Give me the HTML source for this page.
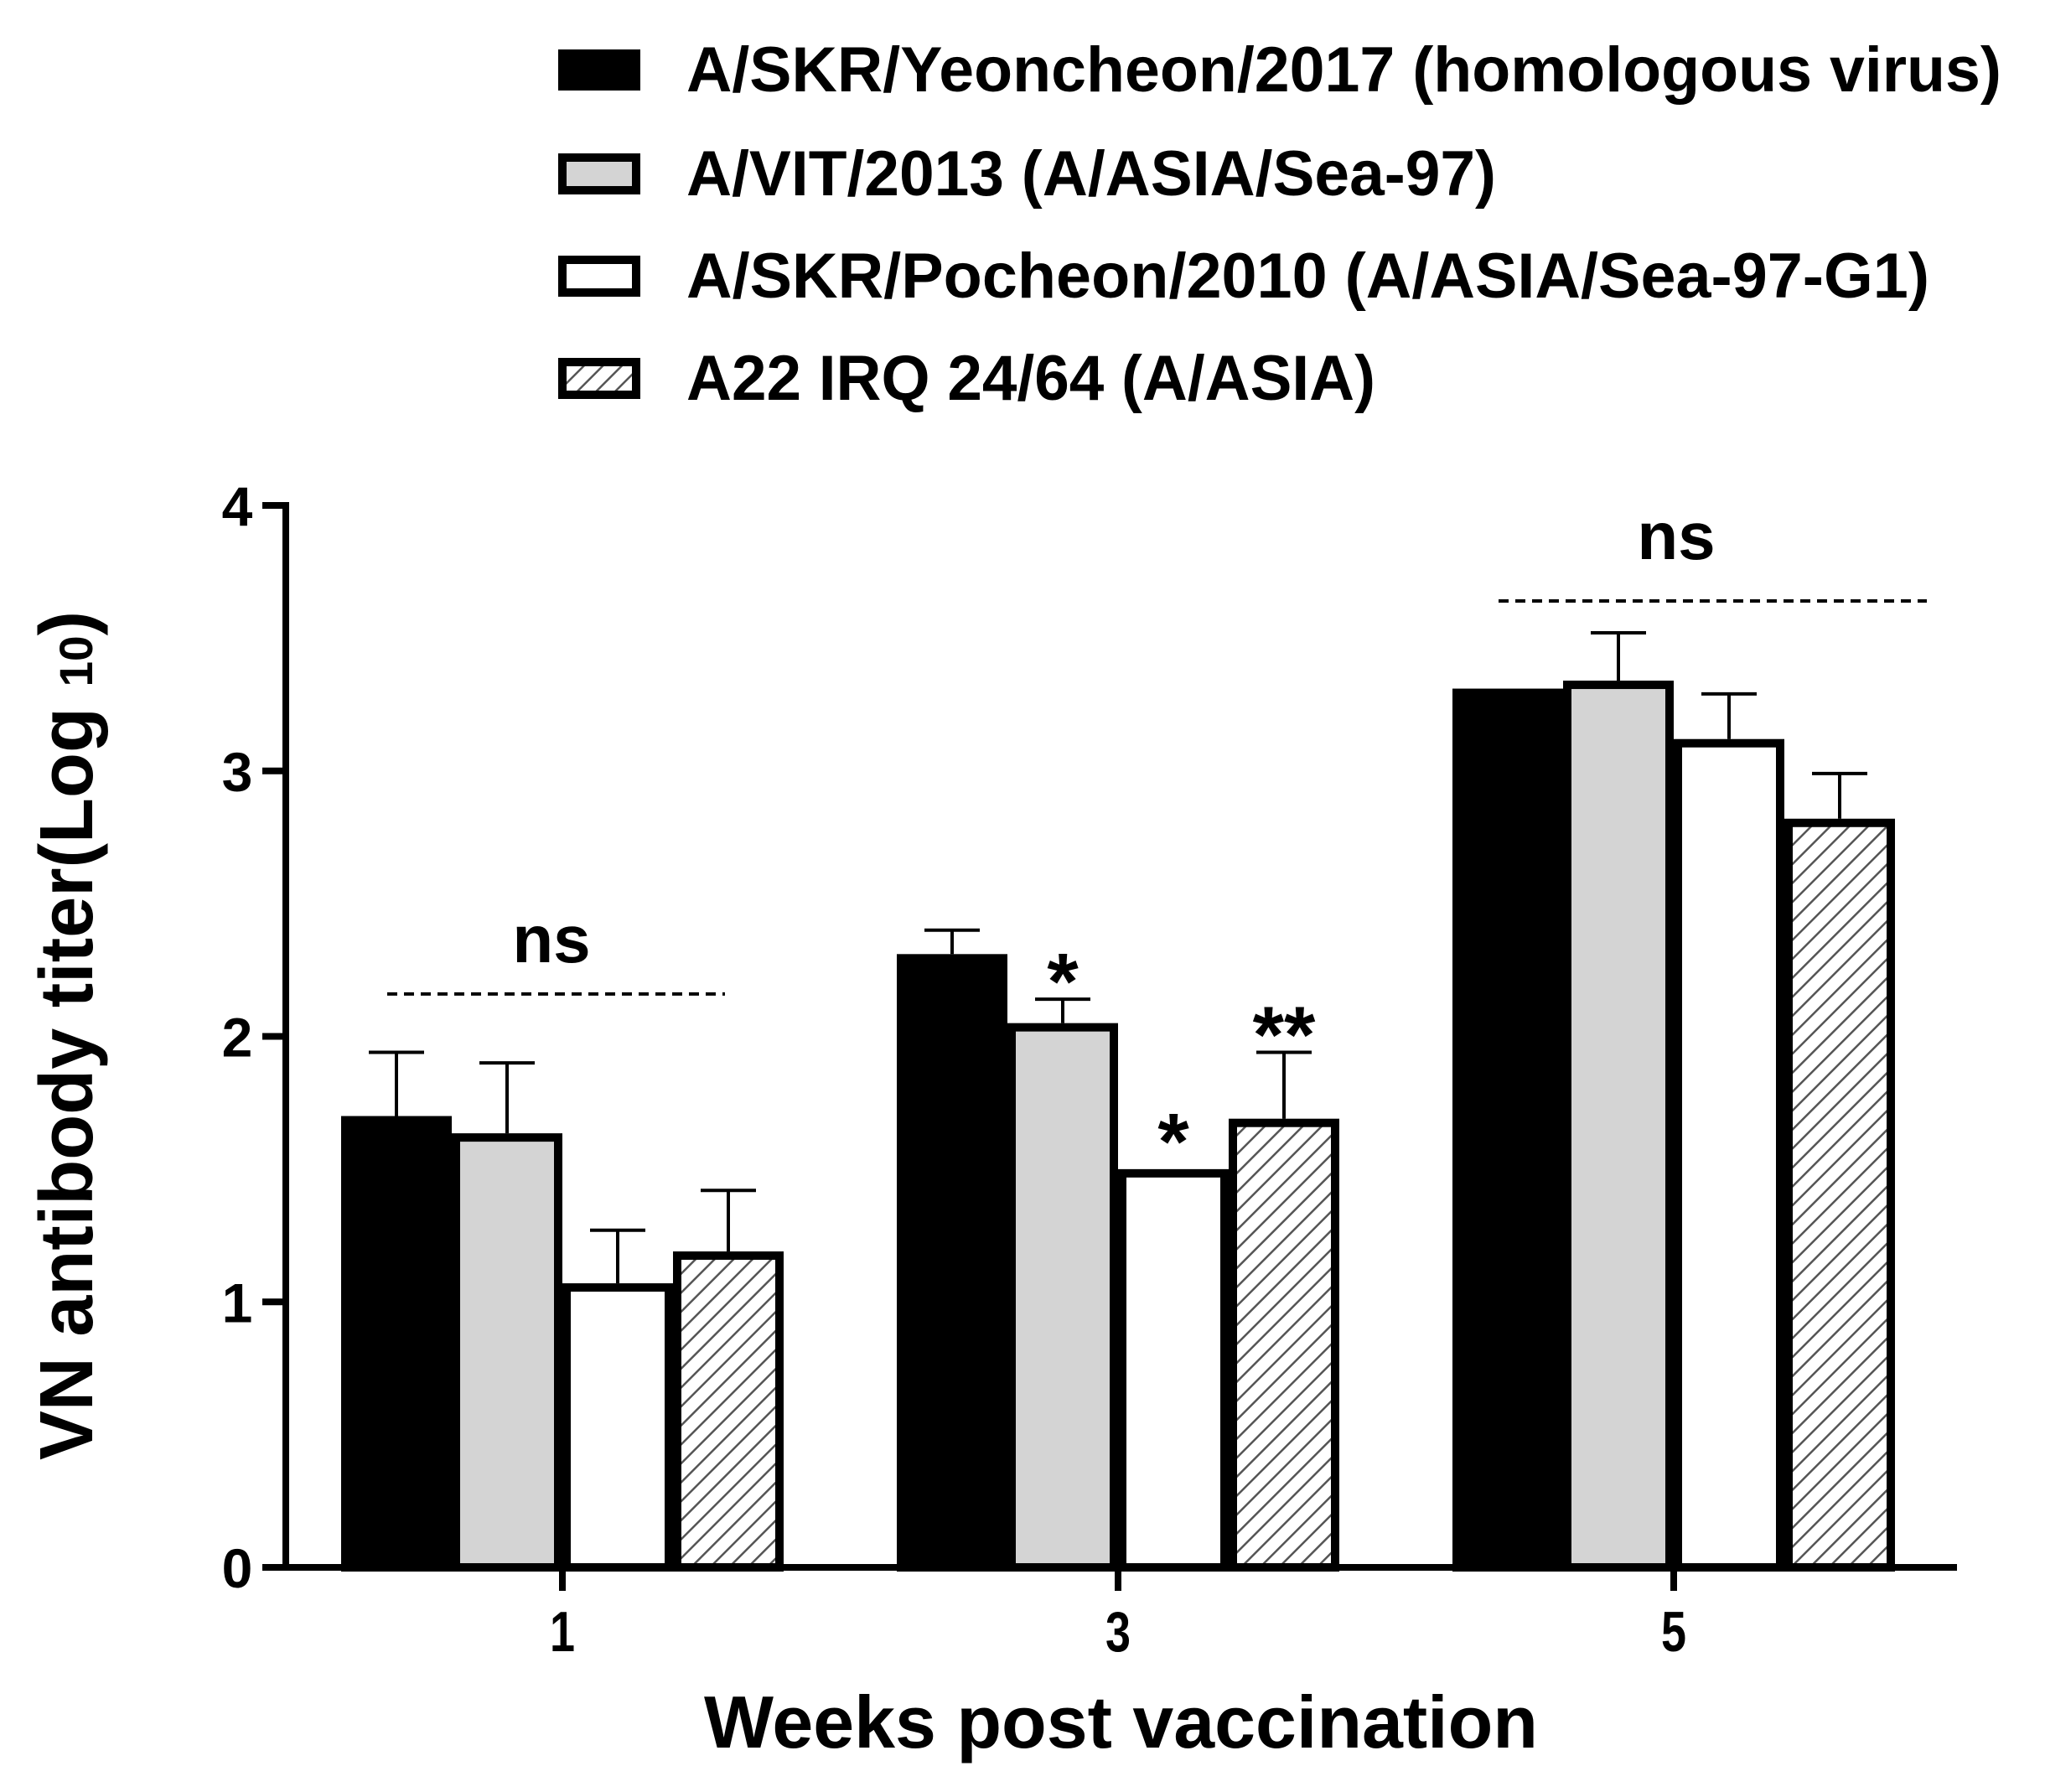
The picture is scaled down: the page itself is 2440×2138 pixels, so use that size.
<!DOCTYPE html>
<html><head><meta charset="utf-8"><style>
html,body{margin:0;padding:0;background:#fff;}
svg{display:block;font-family:"Liberation Sans",Arial,sans-serif;font-weight:bold;}
</style></head><body>
<svg id="chart" width="2440" height="2138" viewBox="0 0 2440 2138" xmlns="http://www.w3.org/2000/svg">
<defs>
<pattern id="hatch" patternUnits="userSpaceOnUse" width="16" height="16" patternTransform="rotate(45)">
<rect width="16" height="16" fill="#fff"/>
<line x1="0" y1="0" x2="0" y2="16" stroke="#555" stroke-width="5"/>
</pattern>
</defs>
<g id="legend"></g>
<g id="plot"></g>
</svg>
<script>
const weeks = [1, 3, 5];
const seriesNames = ["A/SKR/Yeoncheon/2017 (homologous virus)", "A/VIT/2013 (A/ASIA/Sea-97)", "A/SKR/Pocheon/2010 (A/ASIA/Sea-97-G1)", "A22 IRQ 24/64 (A/ASIA)"];
const yeoncheon = [1.70, 2.31, 3.31];
const vit = [1.635, 2.05, 3.34];
const pocheon = [1.07, 1.50, 3.12];
const a22 = [1.19, 1.69, 2.82];
const yeoncheonErr = [0.24, 0.09, 0];
const vitErr = [0.265, 0.09, 0.18];
const pocheonErr = [0.20, 0, 0.17];
const a22Err = [0.23, 0.25, 0.17];
const yTicks = [0, 1, 2, 3, 4];
const sigMarks = [["", "", "", ""], ["", "*", "*", "**"], ["", "", "", ""]];
const groupNs = ["ns", "", "ns"];
const nsLevel = [2.16, null, 3.64];

const NS = "http://www.w3.org/2000/svg";
const plot = document.getElementById('plot');
const legend = document.getElementById('legend');
function mk(tag, attrs, parent) {
  const e = document.createElementNS(NS, tag);
  for (const k in attrs) e.setAttribute(k, attrs[k]);
  (parent || plot).appendChild(e);
  return e;
}
const y0 = 1870, yUnit = 316.75;
function yScale(v) { return y0 - v * yUnit; }
function xScale(w) { return 671 + (w - 1) / 2 * 663; }
const barW = 132;
const fills = ["#000", "#d4d4d4", "#fff", "url(#hatch)"];
const seriesData = [yeoncheon, vit, pocheon, a22];
const seriesErr = [yeoncheonErr, vitErr, pocheonErr, a22Err];
const seriesKeys = ["yeoncheon", "vit", "pocheon", "a22"];

// Legend
const legY = [59, 183, 305, 427];
const legW = [1569, 966, 1483, 822];
seriesNames.forEach((n, i) => {
  const r = mk('rect', {x: 671, y: legY[i] + 5, width: 88, height: 39, fill: fills[i], stroke: '#000', 'stroke-width': 10}, legend);
  
  
  const t = mk('text', {x: 819, y: legY[i] + 50, 'font-size': 76, textLength: legW[i], lengthAdjust: 'spacingAndGlyphs'}, legend);
  t.textContent = n;
  
  
});

// Bars
weeks.forEach((w, gi) => {
  const cx = xScale(w);
  seriesData.forEach((arr, si) => {
    const left = cx - 2 * barW + si * barW;
    const top = yScale(arr[gi]);
    const err = seriesErr[si][gi];
    const mid = left + barW / 2;
    if (err > 0) {
      const el = mk('line', {x1: mid, x2: mid, y1: top, y2: yScale(arr[gi] + err), stroke: '#000', 'stroke-width': 4});
      
      
      const cap = mk('line', {x1: mid - 33, x2: mid + 33, y1: yScale(arr[gi] + err), y2: yScale(arr[gi] + err), stroke: '#000', 'stroke-width': 4});
      
      
    }
    const b = mk('rect', {x: left + 5, y: top + 5, width: barW - 10, height: y0 - top - 5, fill: fills[si], stroke: '#000', 'stroke-width': 10});
    
    
    const s = sigMarks[gi][si];
    if (s) {
      const center = yScale(arr[gi] + err) - (err > 0 ? 44 : 56);
      const st = mk('text', {x: mid, y: center + 56, 'font-size': 96, 'text-anchor': 'middle'});
      st.textContent = s;
      
      
    }
  });
  if (groupNs[gi]) {
    const ly = yScale(nsLevel[gi]);
    const dl = mk('line', {x1: cx - 209, x2: cx + 302 - (gi === 0 ? 108 : 0), y1: ly, y2: ly, stroke: '#000', 'stroke-width': 4, 'stroke-dasharray': '12 8'});
    
    
    const nt = mk('text', {x: cx + (gi === 0 ? -13 : 3), y: ly - (gi === 0 ? 38 : 50), 'font-size': 80, 'text-anchor': 'middle'});
    nt.textContent = groupNs[gi];
    
    
  }
});

// Axes
const ya = mk('line', {x1: 341, x2: 341, y1: yScale(4) - 4, y2: y0 + 4, stroke: '#000', 'stroke-width': 8});


const xa = mk('line', {x1: 313, x2: 2335, y1: y0, y2: y0, stroke: '#000', 'stroke-width': 8});


yTicks.forEach(v => {
  const tk = mk('line', {x1: 313, x2: 341, y1: yScale(v), y2: yScale(v), stroke: '#000', 'stroke-width': 8});
  
  
  const tl = mk('text', {x: 283, y: yScale(v) + 24, 'font-size': 66, 'text-anchor': 'middle'});
  tl.textContent = v;
  
  
});
weeks.forEach(w => {
  const tk = mk('line', {x1: xScale(w), x2: xScale(w), y1: y0, y2: y0 + 28, stroke: '#000', 'stroke-width': 8});
  
  
  const tl = mk('text', {x: xScale(w), y: 1970, 'font-size': 68, 'text-anchor': 'middle', textLength: 30, lengthAdjust: 'spacingAndGlyphs'});
  tl.textContent = w;
  
  
});
const xt = mk('text', {x: 840, y: 2085, 'font-size': 88, textLength: 995, lengthAdjust: 'spacingAndGlyphs'});
xt.textContent = 'Weeks post vaccination';


const yt = mk('text', {x: 0, y: 0, 'font-size': 90, transform: 'translate(110,1742) rotate(-90)', textLength: 1013, lengthAdjust: 'spacingAndGlyphs'});
yt.innerHTML = 'VN antibody titer(Log <tspan font-size="56">10</tspan>)';


</script>
</body></html>
